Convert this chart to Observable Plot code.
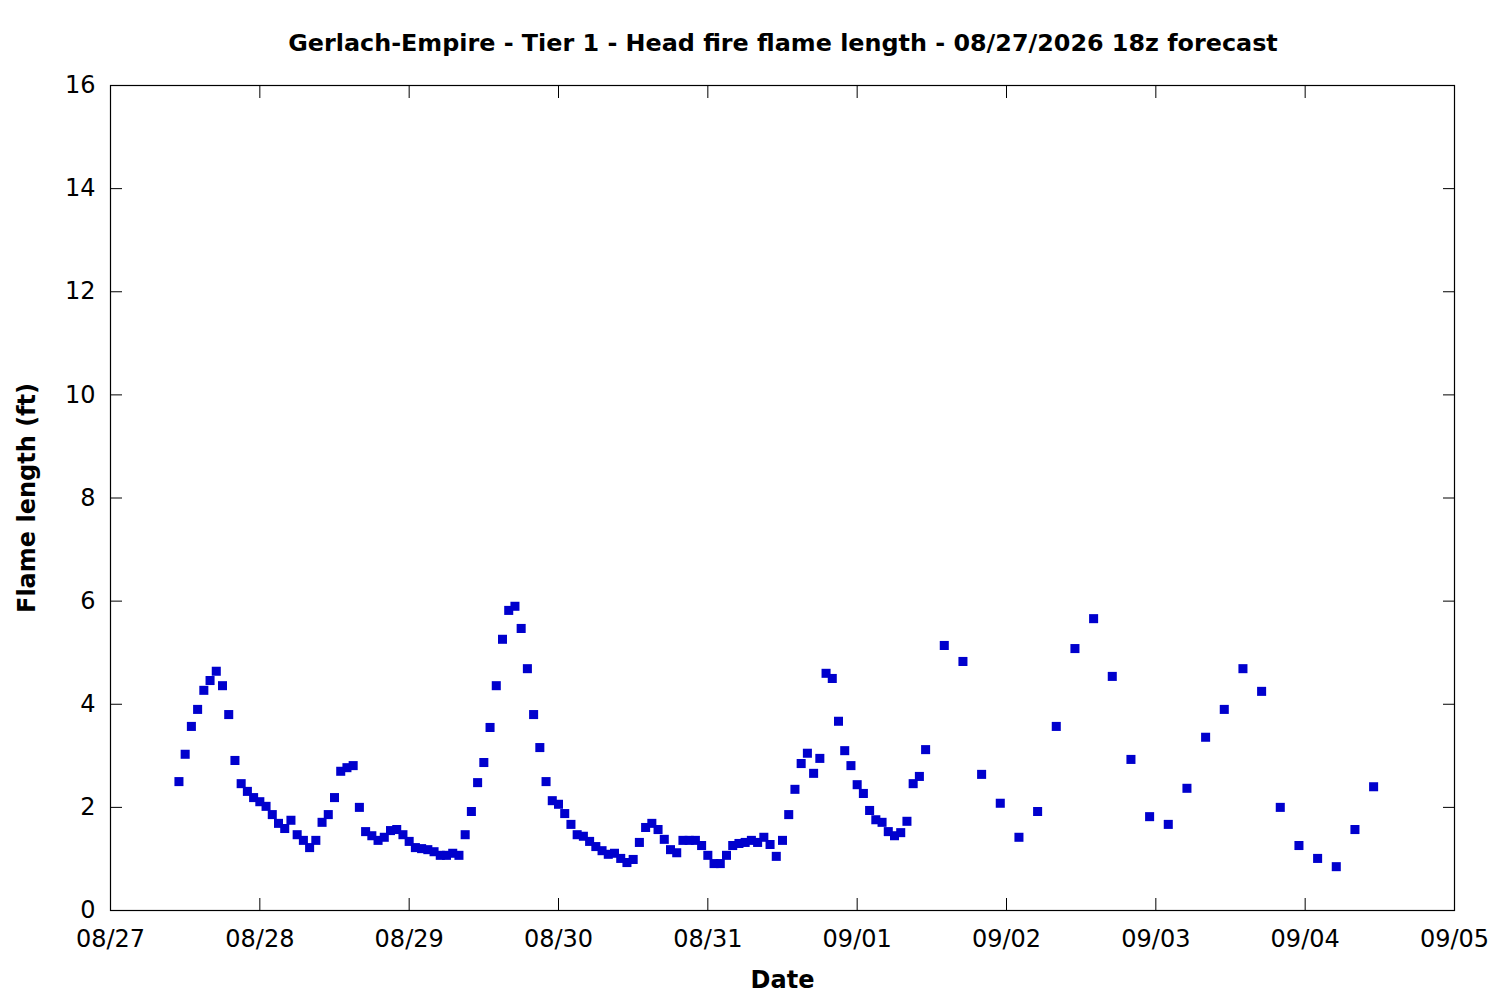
<!DOCTYPE html>
<html>
<head>
<meta charset="utf-8">
<script src="https://cdn.jsdelivr.net/npm/d3@7"></script>
<script src="https://cdn.jsdelivr.net/npm/@observablehq/plot@0.6"></script>
<style>
  body { margin: 0; background: #fff; }
  #title {
    height: 70px;
    padding-left: 66px;
    text-align: center;
    font-family: "DejaVu Sans";
    font-weight: bold;
    font-size: 23.85px;
    line-height: 86px;
    white-space: nowrap;
    color: #000;
  }
</style>
</head>
<body>
<div id="title"></div>
<div id="chart"></div>
<script>
const titleText = "Gerlach-Empire - Tier 1 - Head fire flame length - 08/27/2026 18z forecast";
const xLabel = "Date";
const yLabel = "Flame length (ft)";

// x tick days and y ticks
const xTickDays = ["2026-08-27", "2026-08-28", "2026-08-29", "2026-08-30", "2026-08-31",
                   "2026-09-01", "2026-09-02", "2026-09-03", "2026-09-04", "2026-09-05"];
const yTicks = [0, 2, 4, 6, 8, 10, 12, 14, 16];

// hourly forecast section: starts 08/27 11:00, one value per hour
const hourlyStart = "2026-08-27T11:00:00Z";
const hourlyValues = [
  2.50, 3.03, 3.57, 3.90, 4.27, 4.46, 4.64, 4.36, 3.80, 2.91,
  2.46, 2.31, 2.19, 2.11, 2.02, 1.86, 1.69, 1.59, 1.75, 1.47,
  1.36, 1.22, 1.36, 1.71, 1.86, 2.19, 2.70, 2.77, 2.81, 2.00,
  1.53, 1.45, 1.36, 1.42, 1.55, 1.57, 1.47, 1.34, 1.22, 1.20,
  1.18, 1.14, 1.07, 1.07, 1.11, 1.07, 1.47, 1.92, 2.48, 2.87,
  3.55, 4.36, 5.26, 5.82, 5.90, 5.47, 4.69, 3.80, 3.16, 2.50,
  2.13, 2.06, 1.88, 1.67, 1.47, 1.44, 1.34, 1.24, 1.16, 1.09,
  1.11, 1.01, 0.93, 0.99, 1.32, 1.61, 1.69, 1.57, 1.38, 1.18,
  1.12, 1.36, 1.36, 1.36, 1.26, 1.07, 0.91, 0.91, 1.07, 1.26,
  1.30, 1.32, 1.36, 1.32, 1.42, 1.28, 1.05, 1.36, 1.86, 2.35,
  2.85, 3.05, 2.66, 2.95, 4.60, 4.50, 3.67, 3.10, 2.81, 2.44,
  2.27, 1.94, 1.76, 1.71, 1.53, 1.45, 1.51, 1.73, 2.46, 2.60,
  3.12
];

// 3-hourly forecast section: starts 09/01 14:00, one value every 3 hours
const threeHourlyStart = "2026-09-01T14:00:00Z";
const threeHourlyValues = [
  5.14, 4.83, 2.64, 2.08, 1.42, 1.92, 3.57, 5.08, 5.66, 4.54,
  2.93, 1.82, 1.67, 2.37, 3.36, 3.90, 4.69, 4.25, 2.00, 1.26,
  1.01, 0.85, 1.57, 2.40
];

document.getElementById("title").textContent = titleText;

const data = [
  ...hourlyValues.map((v, i) => ({time: d3.utcHour.offset(new Date(hourlyStart), i), value: v})),
  ...threeHourlyValues.map((v, i) => ({time: d3.utcHour.offset(new Date(threeHourlyStart), 3 * i), value: v}))
];

const xTicks = xTickDays.map(d => new Date(d + "T00:00:00Z"));
const fmt = d3.utcFormat("%m/%d");

const chart = Plot.plot({
  width: 1500,
  height: 930,
  marginTop: 15,
  marginBottom: 90,
  marginLeft: 110,
  marginRight: 46,
  style: {fontFamily: "DejaVu Sans", fontSize: "24px", color: "#000", background: "#fff", overflow: "visible"},
  x: {type: "utc", domain: [xTicks[0], xTicks[xTicks.length - 1]]},
  y: {domain: [yTicks[0], yTicks[yTicks.length - 1]]},
  marks: [
    Plot.axisX({anchor: "bottom", ticks: xTicks, tickFormat: fmt, tickSize: -12, tickPadding: 31, label: null}),
    Plot.axisX({anchor: "top", ticks: xTicks, tickFormat: () => "", tickSize: -12, label: null}),
    Plot.axisY({anchor: "left", ticks: yTicks, tickSize: -12, tickPadding: 27, label: null}),
    Plot.axisY({anchor: "right", ticks: yTicks, tickFormat: () => "", tickSize: -12, label: null}),
    Plot.frame({stroke: "#000", strokeWidth: 1.2}),
    Plot.dot(data, {x: "time", y: "value", symbol: "square", r: 5.1, fill: "#0000CD", stroke: null}),
    Plot.text([xLabel], {text: d => d, frameAnchor: "bottom", dy: 70, fontWeight: "bold", textAnchor: "middle", lineAnchor: "middle"}),
    Plot.text([yLabel], {text: d => d, frameAnchor: "left", dx: -83, rotate: -90, fontWeight: "bold", textAnchor: "middle", lineAnchor: "middle"})
  ]
});
document.getElementById("chart").appendChild(chart);
</script>
</body>
</html>
